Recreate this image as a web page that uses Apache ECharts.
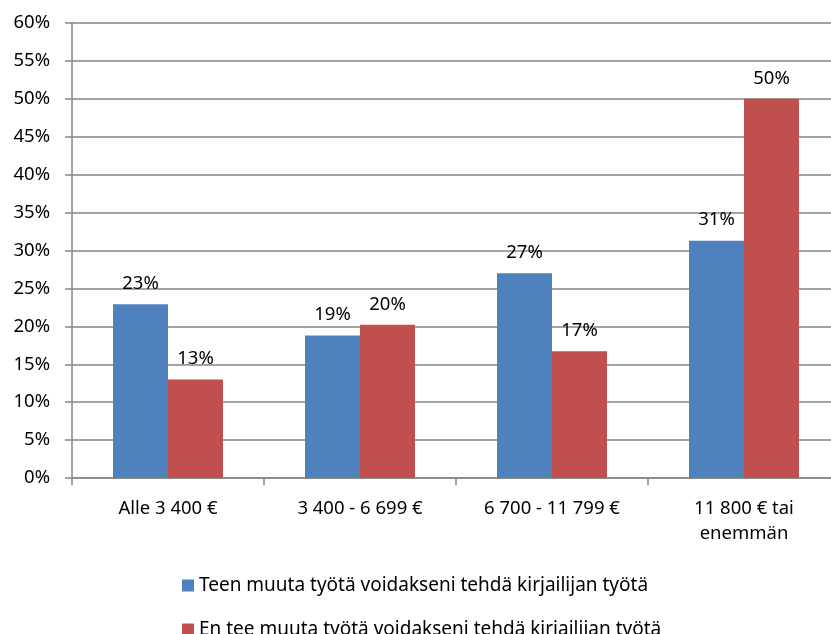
<!DOCTYPE html>
<html>
<head>
<meta charset="utf-8">
<script src="https://cdn.jsdelivr.net/npm/echarts@6/dist/echarts.min.js"></script>
<style>
	html,body{margin:0;padding:0;background:#fff;overflow:hidden;}
	/* plot runs a bit past the right edge of the picture, so the div is wider than the window */
	#main{width:840px;height:634px;}
</style>
</head>
<body>
<div id="main"></div>
<script>
let categories=["Alle 3 400 €","3 400 - 6 699 €","6 700 - 11 799 €","11 800 € tai\nenemmän"];
let seriesNames=["Teen muuta työtä voidakseni tehdä kirjailijan työtä","En tee muuta työtä voidakseni tehdä kirjailijan työtä"];
let teenValues=[22.9,18.8,27.0,31.3];
let enTeeValues=[13.0,20.2,16.7,50.0];
let colors=["#4F81BD","#C0504D"];
let font='"Noto Sans", sans-serif';

function labelOpt(){
	return {
		show:true,
		position:"top",
		distance:11,
		color:"#000",
		fontSize:18.5,
		fontFamily:font,
		formatter:function(p){
			return Math.round(p.value)+"%";
		}
	};
}
// one legend per row, the second row runs off the bottom like in the picture
function legendOpt(name,top){
	return {
		orient:"horizontal",
		left:182,
		top:top,
		padding:0,
		itemWidth:12,
		itemHeight:12,
		itemGap:6,
		icon:"rect",
		textStyle:{
			color:"#000",
			fontSize:19,
			fontFamily:font
		},
		data:[name]
	};
}

var myChart=echarts.init(document.querySelector("#main"));
let option={
	animation:false,
	textStyle:{
		fontFamily:font
	},
	grid:{
		left:72,
		top:23,
		right:0,
		height:455,
		containLabel:false
	},
	legend:[legendOpt(seriesNames[0],576),legendOpt(seriesNames[1],620)],
	xAxis:{
		type:"category",
		data:categories,
		axisLine:{
			lineStyle:{color:"#868686",width:1.5}
		},
		axisTick:{
			show:true,
			length:7,
			alignWithLabel:false,
			lineStyle:{color:"#868686",width:1.5}
		},
		axisLabel:{
			color:"#000",
			fontSize:18.5,
			margin:18,
			lineHeight:25,
			fontFamily:font
		}
	},
	yAxis:{
		type:"value",
		min:0,
		max:60,
		interval:5,
		axisLine:{
			show:true,
			lineStyle:{color:"#868686",width:1.5}
		},
		axisTick:{
			show:true,
			length:7,
			lineStyle:{color:"#868686",width:1.5}
		},
		splitLine:{
			lineStyle:{color:"#868686",width:1.5}
		},
		axisLabel:{
			formatter:"{value}%",
			color:"#000",
			fontSize:18.5,
			margin:22,
			fontFamily:font
		}
	},
	series:[{
		name:seriesNames[0],
		type:"bar",
		data:teenValues,
		barWidth:55,
		barGap:"0%",
		itemStyle:{color:colors[0]},
		label:labelOpt()
	},{
		name:seriesNames[1],
		type:"bar",
		data:enTeeValues,
		barWidth:55,
		barGap:"0%",
		itemStyle:{color:colors[1]},
		label:labelOpt()
	}]
};
myChart.setOption(option);
</script>
</body>
</html>
